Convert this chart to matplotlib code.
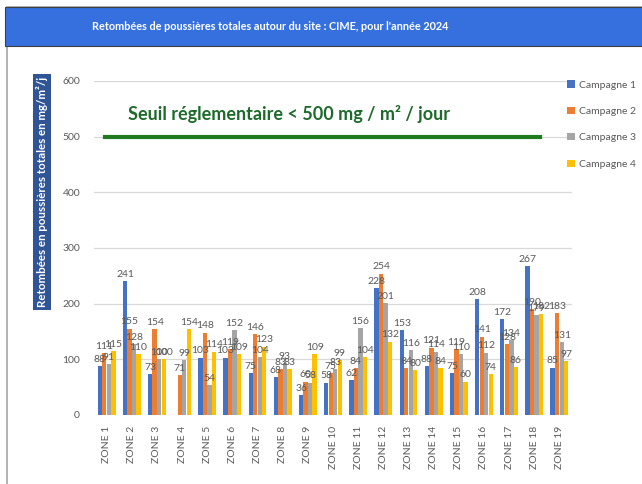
"""
Retombées de poussières totales autour du site CIME (2024)
"""

import numpy as np
import matplotlib.pyplot as plt
from matplotlib.patches import Rectangle

zones = [f"ZONE {i}" for i in range(1, 20)]
campagne_1 = [88, 241, 73, np.nan, 103, 103, 75, 68, 36, 58, 62, 228, 153, 88, 75, 208, 172, 267, 85]
campagne_2 = [111, 155, 154, 71, 148, 119, 146, 83, 60, 75, 84, 254, 84, 121, 119, 141, 128, 190, 183]
campagne_3 = [91, 128, 100, 99, 54, 152, 104, 93, 58, 83, 156, 201, 116, 114, 110, 112, 134, 179, 131]
campagne_4 = [115, 110, 100, 154, 114, 109, 123, 83, 109, 99, 104, 132, 80, 84, 60, 74, 86, 182, 97]
series_names = ["Campagne 1", "Campagne 2", "Campagne 3", "Campagne 4"]
seuil = 500

colors = ["#4472C4", "#ED7D31", "#A5A5A5", "#FFC000"]
label_gray = "#595959"


def main():
    plt.rcParams["font.family"] = ["Lato", "DejaVu Sans"]
    fig = plt.figure(figsize=(6.42, 4.84), dpi=100)

    # frame and title band
    fig.patches.append(Rectangle((7 / 642, -0.01), 1.0, 1.0 - 7 / 484 + 0.01,
                                 transform=fig.transFigure, fill=False,
                                 edgecolor="#A6A6A6", lw=1.2))
    fig.patches.append(Rectangle((5 / 642, 1 - 46 / 484), 1.0, 39 / 484,
                                 transform=fig.transFigure, facecolor="#3570DE",
                                 edgecolor="#404040", lw=0.8))
    fig.text(270 / 642, 1 - 26 / 484,
             "Retombées de poussières totales autour du site : CIME, pour l'année 2024",
             ha="center", va="center", color="white", fontsize=7.8, fontweight="bold")

    ax = fig.add_axes([94 / 642, 1 - 415 / 484, 478 / 642, 334 / 484])

    x = np.arange(len(zones))
    width = 0.17
    all_series = [campagne_1, campagne_2, campagne_3, campagne_4]
    for i, (vals, name, c) in enumerate(zip(all_series, series_names, colors)):
        pos = x + (i - 1.5) * 0.18
        ax.bar(pos, vals, width, color=c, label=name, zorder=3)
        for p, v in zip(pos, vals):
            if not np.isnan(v):
                ax.text(p, v + 4, f"{v:.0f}", ha="center", va="bottom",
                        fontsize=7.5, color=label_gray, zorder=4)

    ax.axhline(seuil, xmin=0.023, xmax=0.933, color="#1E7B1E", lw=3, zorder=4)
    ax.text(0.85, 540, "Seuil réglementaire < 500 mg / m² / jour", fontsize=13,
            fontweight="bold", color="#1D6A2A", va="center", ha="left")

    ax.set_xlim(-0.5, len(zones) - 0.5)
    ax.set_ylim(0, 600)
    ax.set_yticks(range(0, 601, 100))
    ax.set_xticks(x)
    ax.set_xticklabels(zones, rotation=90)
    ax.tick_params(axis="both", length=0, colors=label_gray, labelsize=7.5)
    ax.tick_params(axis="y", pad=10)
    ax.tick_params(axis="x", pad=8)
    ax.grid(axis="y", color="#D9D9D9", lw=0.9, zorder=0)
    for s in ax.spines.values():
        s.set_visible(False)

    fig.text(42 / 642, 1 - 192 / 484, "Retombées en poussières totales en mg/m²/j",
             rotation=90, ha="center", va="center", color="white", fontsize=8.3,
             fontweight="bold",
             bbox=dict(boxstyle="square,pad=0.25", facecolor="#2F5597", edgecolor="none"))

    ax.legend(loc="upper left", bbox_to_anchor=(562 / 642, 1 - 75 / 484),
              bbox_transform=fig.transFigure, frameon=False, fontsize=7.5,
              labelcolor=label_gray, handlelength=0.7, handleheight=0.7,
              handletextpad=0.4, labelspacing=1.65, borderpad=0)

    fig.savefig("out.png", dpi=100)
    plt.close(fig)


if __name__ == "__main__":
    main()
